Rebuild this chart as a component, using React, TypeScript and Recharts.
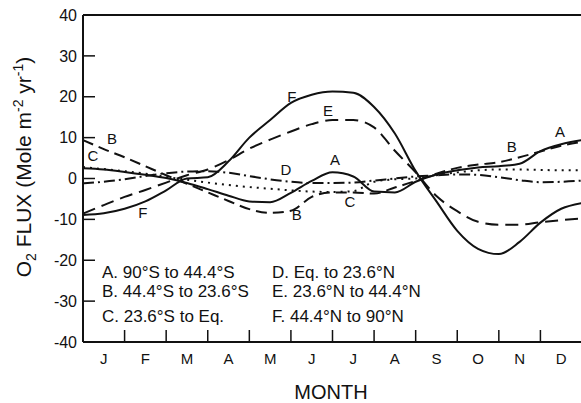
import React from "react";
import {
  Customized,
  Line,
  LineChart,
  ReferenceDot,
  XAxis,
  YAxis,
} from "recharts";

// month position (0 = start of Jan, 12 = end of Dec), half-month steps
const monthPos = [
  0, 0.5, 1, 1.5, 2, 2.5, 3, 3.5, 4, 4.5, 5, 5.5, 6, 6.5, 7, 7.5, 8, 8.5, 9,
  9.5, 10, 10.5, 11, 11.5, 12,
];
const monthLabels = ["J", "F", "M", "A", "M", "J", "J", "A", "S", "O", "N", "D"];
const monthTicks = [0, 1, 2, 3, 4, 5, 6, 7, 8, 9, 10, 11, 12];
const fluxTicks = [-40, -30, -20, -10, 0, 10, 20, 30, 40];

// O2 flux, Mole m-2 yr-1, per latitude band
const zoneA = [
  2.5, 2.2, 1.6, 0.9, 0.1, -1.1, -2.6, -4.2, -5.6, -5.8, -3.5, -0.6, 1.5, 0.5,
  -3.2, -3.4, -0.8, 1.0, 2.0, 2.7, 3.0, 3.6, 6.7, 8.4, 9.4,
];
const zoneB = [
  9.4, 7.2, 5.2, 3.0, 0.8, -1.3, -3.4, -5.5, -7.5, -8.4, -7.9, -4.5, -3.4, -3.4,
  -3.7, -2.2, -0.6, 1.2, 2.6, 3.4, 4.0, 5.2, 6.6, 8.0, 9.0,
];
const zoneC = [
  2.8, 2.3, 1.8, 1.2, 0.4, -0.3, -1.0, -1.6, -2.1, -2.5, -2.9, -3.2, -3.3, -3.1,
  -0.8, -0.2, 0.0, 0.8, 1.5, 2.0, 2.2, 2.2, 2.1, 2.0, 2.0,
];
const zoneD = [
  -1.2, -0.8, -0.2, 0.6, 1.3, 1.7, 1.8, 1.4, 0.6, -0.2, -0.8, -1.1, -1.1, -1.0,
  -0.5, 0.0, 0.5, 0.8, 1.0, 0.9, 0.3, -0.4, -0.9, -0.8, -0.5,
];
const zoneE = [
  -8.6, -6.5, -4.5, -2.8, -1.0, 0.8, 2.2, 4.5, 7.3, 9.5, 11.5, 13.3, 14.3, 14.3,
  12.5, 6.8, 1.5, -4.3, -8.0, -10.6, -11.3, -11.3, -10.7, -10.2, -9.8,
];
const zoneF = [
  -8.9, -8.5, -7.4, -5.6, -2.9, 0.0, 0.3, 4.2, 10.0, 14.3, 18.5, 20.5, 21.3,
  21.0, 17.5, 11.0, 1.8, -5.6, -12.8, -17.2, -18.5, -15.5, -10.8, -7.4, -6.0,
];

const zoneNames = [
  "A. 90°S to 44.4°S",
  "B. 44.4°S to 23.6°S",
  "C. 23.6°S to Eq.",
  "D. Eq. to 23.6°N",
  "E. 23.6°N to 44.4°N",
  "F. 44.4°N to 90°N",
];

// letters written next to the curves (month position, flux)
const curveLetters = [
  { text: "B", t: 0.7, v: 9.7 },
  { text: "C", t: 0.24, v: 5.7 },
  { text: "F", t: 1.44, v: -8.4 },
  { text: "F", t: 5.02, v: 19.9 },
  { text: "E", t: 5.89, v: 16.7 },
  { text: "D", t: 4.88, v: 2.1 },
  { text: "A", t: 6.06, v: 4.5 },
  { text: "C", t: 6.42, v: -5.7 },
  { text: "B", t: 5.14, v: -8.9 },
  { text: "B", t: 10.31, v: 7.7 },
  { text: "A", t: 11.47, v: 11.4 },
];

const data = monthPos.map((t, i) => ({
  t,
  A: zoneA[i],
  B: zoneB[i],
  C: zoneC[i],
  D: zoneD[i],
  E: zoneE[i],
  F: zoneF[i],
}));

const FONT = "'Liberation Sans', Arial, sans-serif";
const INK = "#111";

const series = [
  { key: "A", dash: undefined },
  { key: "B", dash: "11 6" },
  { key: "C", dash: "2 5" },
  { key: "D", dash: "11 4 2 4" },
  { key: "E", dash: "13 7" },
  { key: "F", dash: undefined },
];

function MonthTick(props: any) {
  const { x, y, payload } = props;
  if (payload.value >= 12) return null;
  const half = 499 / 24;
  return (
    <text
      x={x + half}
      y={y}
      textAnchor="middle"
      fontSize={15}
      fontFamily={FONT}
      fill={INK}
    >
      {monthLabels[payload.value]}
    </text>
  );
}

function Annotations() {
  const rows = [278, 297, 322];
  return (
    <g fontFamily={FONT} fill={INK}>
      {zoneNames.map((name, i) => (
        <text
          key={name}
          x={i < 3 ? 102 : 272}
          y={rows[i % 3]}
          fontSize={17}
        >
          {name}
        </text>
      ))}
      <text
        transform="rotate(-90, 31, 167)"
        x={31}
        y={167}
        textAnchor="middle"
        fontSize={21}
      >
        O<tspan fontSize={14} dy={5}>2</tspan>
        <tspan dy={-5}> FLUX (Mole m</tspan>
        <tspan fontSize={14} dy={-8}>-2</tspan>
        <tspan dy={8}> yr</tspan>
        <tspan fontSize={14} dy={-8}>-1</tspan>
        <tspan dy={8}>)</tspan>
      </text>
      <text x={331} y={399} textAnchor="middle" fontSize={20}>
        MONTH
      </text>
    </g>
  );
}

export default function App() {
  return (
    <div
      style={{
        position: "absolute",
        left: 0,
        top: 0,
        width: 581,
        height: 403,
        overflow: "hidden",
        background: "#fff",
      }}
    >
      <LineChart
        width={584}
        height={403}
        data={data}
        margin={{ top: 14, right: 1, bottom: 60, left: 0 }}
      >
        <XAxis
          xAxisId="bottom"
          dataKey="t"
          type="number"
          domain={[0, 12]}
          ticks={monthTicks}
          interval={0}
          height={1}
          tickSize={-12}
          tickMargin={34}
          tick={<MonthTick />}
          axisLine={{ stroke: INK, strokeWidth: 2 }}
          tickLine={{ stroke: INK, strokeWidth: 1.5 }}
        />
        <XAxis
          xAxisId="top"
          orientation="top"
          dataKey="t"
          type="number"
          domain={[0, 12]}
          ticks={monthTicks}
          interval={0}
          height={1}
          tickSize={-12}
          tick={false}
          axisLine={{ stroke: INK, strokeWidth: 2 }}
          tickLine={{ stroke: INK, strokeWidth: 1.5 }}
        />
        <YAxis
          yAxisId="left"
          type="number"
          domain={[-40, 40]}
          ticks={fluxTicks}
          interval={0}
          width={83}
          tickSize={-12}
          tickMargin={18}
          tick={{ fontSize: 16, fontFamily: FONT, fill: INK }}
          axisLine={{ stroke: INK, strokeWidth: 2 }}
          tickLine={{ stroke: INK, strokeWidth: 1.5 }}
        />
        <YAxis
          yAxisId="right"
          orientation="right"
          type="number"
          domain={[-40, 40]}
          ticks={fluxTicks}
          interval={0}
          width={1}
          tickSize={-10}
          tick={false}
          axisLine={{ stroke: INK, strokeWidth: 2 }}
          tickLine={{ stroke: INK, strokeWidth: 1.5 }}
        />
        {series.map((s) => (
          <Line
            key={s.key}
            xAxisId="bottom"
            yAxisId="left"
            type="monotone"
            dataKey={s.key}
            stroke={INK}
            strokeWidth={2}
            strokeDasharray={s.dash}
            dot={false}
            activeDot={false}
            isAnimationActive={false}
          />
        ))}
        {curveLetters.map((c, i) => (
          <ReferenceDot
            key={i}
            xAxisId="bottom"
            yAxisId="left"
            x={c.t}
            y={c.v}
            r={0}
            fill="none"
            stroke="none"
            label={{
              value: c.text,
              position: "center",
              fontSize: 15,
              fontFamily: FONT,
              fill: INK,
            }}
          />
        ))}
        <Customized component={Annotations} />
      </LineChart>
    </div>
  );
}
